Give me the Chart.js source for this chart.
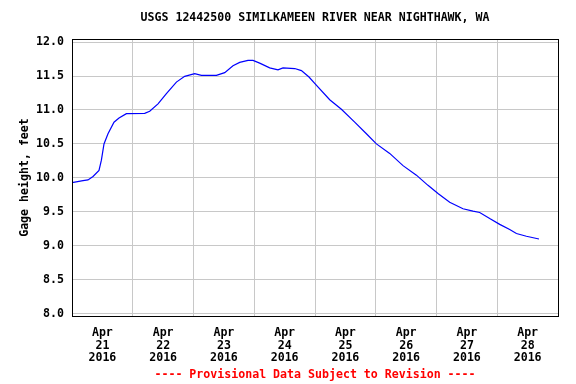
<!DOCTYPE html>
<html>
<head>
<meta charset="utf-8">
<script src="https://cdn.jsdelivr.net/npm/chart.js@4/dist/chart.umd.min.js"></script>
<style>
html,body{margin:0;padding:0;background:#fff;}
#wrap{width:576px;height:384px;position:relative;}
</style>
</head>
<body>
<div id="wrap"><canvas id="c" width="576" height="384"></canvas></div>
<script>
// Hours since Apr 21 2016 00:00
const hours = [0, 4.35, 6.32, 8.3, 10.67, 11.61, 12.64, 14.22, 16.59, 18.57, 21.49, 28.72, 30.7, 33.98, 37.29, 41.24, 44.52, 48.47, 51.12, 57.05, 60.33, 63.6, 66.25, 69.53, 71.51, 74.15, 78.1, 81.38, 83.36, 87.98, 90.63, 93.63, 95.88, 101.81, 106.43, 111.68, 116.31, 120.26, 125.51, 130.77, 136.06, 140.64, 144.59, 149.21, 154.47, 158.42, 161.07, 165.02, 168.97, 172.92, 175.57, 179.52, 184.49];
const gageFt = [9.93, 9.96, 9.97, 10.02, 10.11, 10.26, 10.5, 10.65, 10.82, 10.88, 10.945, 10.95, 10.98, 11.09, 11.24, 11.41, 11.495, 11.535, 11.51, 11.51, 11.55, 11.65, 11.7, 11.73, 11.73, 11.69, 11.62, 11.59, 11.62, 11.61, 11.58, 11.485, 11.39, 11.15, 11.01, 10.82, 10.65, 10.5, 10.36, 10.18, 10.04, 9.89, 9.77, 9.64, 9.545, 9.51, 9.49, 9.4, 9.315, 9.24, 9.18, 9.14, 9.1];
const monthLabel = 'Apr';
const dayLabels = ['21', '22', '23', '24', '25', '26', '27', '28'];
const yearLabel = '2016';
const yTicks = [8.0, 8.5, 9.0, 9.5, 10.0, 10.5, 11.0, 11.5, 12.0];
const titleText = 'USGS 12442500 SIMILKAMEEN RIVER NEAR NIGHTHAWK, WA';
const footerText = '---- Provisional Data Subject to Revision ----';
const yAxisTitle = 'Gage height, feet';

const FONT = "'DejaVu Sans Mono', 'Liberation Mono', monospace";
const FS = 11.6;
const GRID = '#c8c8c8';

const frame = {
  id: 'frame',
  afterDatasetsDraw(chart) {
    const a = chart.chartArea, ctx = chart.ctx;
    ctx.save();
    ctx.strokeStyle = '#000';
    ctx.lineWidth = 1;
    ctx.strokeRect(Math.round(a.left) + 0.5, Math.round(a.top) + 0.5,
                   Math.round(a.right - a.left), Math.round(a.bottom - a.top));
    ctx.restore();
  }
};

new Chart(document.getElementById('c'), {
  type: 'line',
  data: {
    datasets: [{
      data: hours.map((h, i) => ({x: h, y: gageFt[i]})),
      borderColor: '#0000ff',
      borderWidth: 1.2,
      pointRadius: 0,
      tension: 0,
      fill: false
    }]
  },
  options: {
    responsive: false,
    animation: false,
    layout: {padding: {left: 0, right: 18, top: 0, bottom: 0}},
    plugins: {
      legend: {display: false},
      tooltip: {enabled: false},
      title: {
        display: true, text: titleText, fullSize: false, color: '#000',
        font: {family: FONT, size: FS, weight: 'bold', lineHeight: 1.2},
        padding: {top: 10.8, bottom: 14.28}
      },
      subtitle: {
        display: true, text: footerText, position: 'bottom', fullSize: false, color: '#ff0000',
        font: {family: FONT, size: FS, weight: 'bold', lineHeight: 1.2},
        padding: {top: 0, bottom: 2.04}
      }
    },
    scales: {
      x: {
        type: 'linear', min: 0, max: 192,
        afterBuildTicks(scale) {
          const t = [];
          for (let v = 0; v <= 192; v += 12) t.push({value: v});
          scale.ticks = t;
        },
        afterFit(scale) { scale.height = 52; },
        border: {display: false},
        grid: {
          drawTicks: false,
          lineWidth: 1,
          color: (c) => (c.tick && c.tick.value % 24 === 0) ? GRID : 'rgba(0,0,0,0)'
        },
        ticks: {
          autoSkip: false, maxRotation: 0, minRotation: 0, padding: 11,
          color: '#000',
          font: {family: FONT, size: FS, weight: 'bold', lineHeight: 1.08},
          callback: (v) => (v % 24 === 12) ? [monthLabel, dayLabels[Math.floor(v / 24)], yearLabel] : ''
        }
      },
      y: {
        min: 7.965, max: 12.045,
        afterBuildTicks(scale) { scale.ticks = yTicks.map(v => ({value: v})); },
        afterFit(scale) { scale.width = 72; },
        border: {display: false},
        grid: {drawTicks: false, color: GRID, lineWidth: 1},
        ticks: {
          padding: 8, color: '#000',
          font: {family: FONT, size: FS, weight: 'bold'},
          callback: (v) => Number(v).toFixed(1)
        },
        title: {
          display: true, text: yAxisTitle, color: '#000',
          font: {family: FONT, size: FS, weight: 'bold', lineHeight: 1.2},
          padding: {top: 18, bottom: 0}
        }
      }
    }
  },
  plugins: [frame]
});
</script>
</body>
</html>
